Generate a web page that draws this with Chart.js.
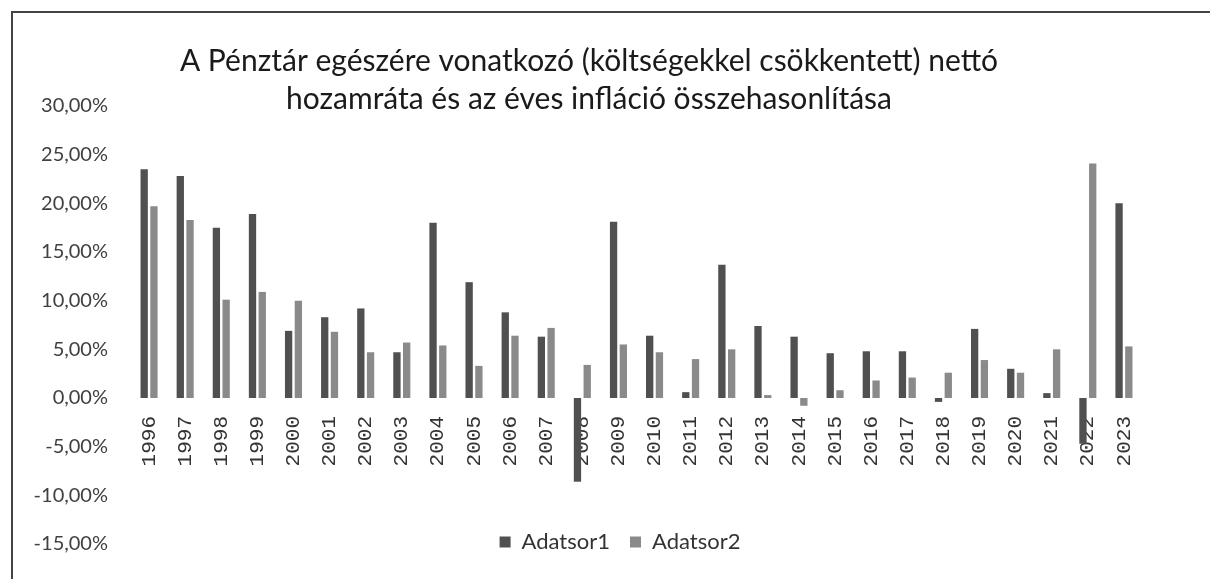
<!DOCTYPE html>
<html>
<head>
<meta charset="utf-8">
<script src="https://cdn.jsdelivr.net/npm/chart.js@4"></script>
<style>
  body { margin: 0; background: #fff; }
  canvas { display: block; }
</style>
</head>
<body>
<canvas id="bar-chartcanvas" width="1210" height="579"></canvas>
<script>
// categories
var years = ["1996","1997","1998","1999","2000","2001","2002","2003","2004","2005",
             "2006","2007","2008","2009","2010","2011","2012","2013","2014","2015",
             "2016","2017","2018","2019","2020","2021","2022","2023"];

// Adatsor1 - net return (%)
var adatsor1 = [23.5, 22.8, 17.5, 18.9, 6.9, 8.3, 9.2, 4.7, 18.0, 11.9,
                8.8, 6.3, -8.6, 18.1, 6.4, 0.6, 13.7, 7.4, 6.3, 4.6,
                4.8, 4.8, -0.4, 7.1, 3.0, 0.5, -4.7, 20.0];

// Adatsor2 - yearly inflation (%)
var adatsor2 = [19.7, 18.3, 10.1, 10.9, 10.0, 6.8, 4.7, 5.7, 5.4, 3.3,
                6.4, 7.2, 3.4, 5.5, 4.7, 4.0, 5.0, 0.3, -0.8, 0.8,
                1.8, 2.1, 2.6, 3.9, 2.6, 5.0, 24.1, 5.3];

var seriesNames = ["Adatsor1", "Adatsor2"];
var titleLines = ["A Pénztár egészére vonatkozó (költségekkel csökkentett) nettó",
                  "hozamráta és az éves infláció összehasonlítása"];

// y axis range / ticks
var yMin = -15, yMax = 30, yStep = 5;

function pctLabel(v) {
	return v.toFixed(2).replace(".", ",") + "%";
}

// white page + frame line top/left
var framePlugin = {
	id : "frame",
	beforeDraw : function(chart) {
		var c = chart.ctx;
		c.save();
		c.fillStyle = "#fff";
		c.fillRect(0, 0, chart.width, chart.height);
		c.strokeStyle = "#444";
		c.lineWidth = 2;
		c.beginPath();
		c.moveTo(12, chart.height);
		c.lineTo(12, 12);
		c.lineTo(chart.width, 12);
		c.stroke();
		c.restore();
	}
};

// legend sits on the -15% row like in excel, title a bit right
var nudge = {
	id : "nudge",
	afterLayout : function(chart) {
		var lg = chart.legend;
		lg.top -= 33; lg.bottom -= 33;
		lg.left += 49; lg.right += 49;
		var t = chart.titleBlock;
		t.left += 18; t.right += 18;
	}
};

var ctx = document.getElementById("bar-chartcanvas");

var data = {
	labels : years,
	datasets : [
		{
			label : seriesNames[0],
			data : adatsor1,
			backgroundColor : "#505050",
			categoryPercentage : 0.54,
			barPercentage : 0.75
		},
		{
			label : seriesNames[1],
			data : adatsor2,
			backgroundColor : "#8a8a8a",
			categoryPercentage : 0.54,
			barPercentage : 0.75
		}
	]
};

var options = {
	responsive : false,
	animation : false,
	devicePixelRatio : 1,
	layout : {
		padding : { top: 40, right: 68, bottom: -19, left: 0 }
	},
	plugins : {
		title : {
			display : true,
			text : titleLines,
			color : "#1a1a1a",
			font : { family: "Lato", size: 30, weight: "normal", lineHeight: 1.25 },
			padding : { top: 3, bottom: -12 }
		},
		legend : {
			display : true,
			position : "bottom",
			labels : {
				color : "#333",
				font : { family: "Lato", size: 22 },
				boxWidth : 11,
				boxHeight : 11,
				padding : 20
			}
		},
		tooltip : { enabled: false }
	},
	scales : {
		x : {
			position : { y: 0 },
			grid : { display: false, drawTicks: false },
			border : { display: false },
			ticks : {
				autoSkip : false,
				maxRotation : 90,
				minRotation : 90,
				padding : 18,
				color : "#333",
				font : { family: "Liberation Mono", size: 21 }
			}
		},
		y : {
			min : yMin,
			max : yMax,
			grid : { display: false, drawTicks: false },
			border : { display: false },
			afterFit : function(scale) { scale.width = 131; },
			ticks : {
				stepSize : yStep,
				padding : 23,
				color : "#404040",
				font : { family: "Lato", size: 20 },
				callback : function(v) { return pctLabel(v); }
			}
		}
	}
};

var chart = new Chart(ctx, {
	type : "bar",
	data : data,
	options : options,
	plugins : [framePlugin, nudge]
});
</script>
</body>
</html>
